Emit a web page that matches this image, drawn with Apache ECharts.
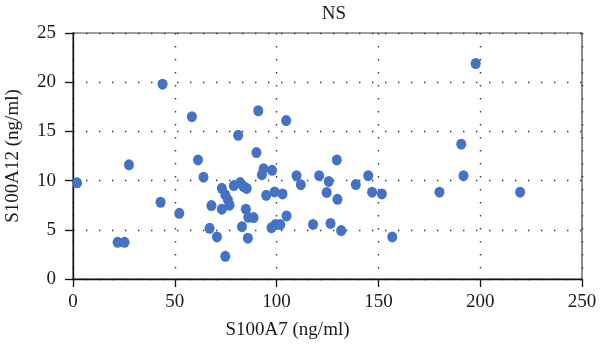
<!DOCTYPE html>
<html>
<head>
<meta charset="utf-8">
<script src="https://cdn.jsdelivr.net/npm/echarts@6/dist/echarts.min.js"></script>
<style>html,body{margin:0;padding:0;background:#fff}#c{width:600px;height:354px}</style>
</head>
<body>
<div id="c"></div>
<script>
const xValues = [2, 21.9, 25.3, 27.5, 43, 44, 52.2, 58.4, 61.4, 64.1, 67.1, 68, 70.7, 73.1, 73.1, 74.8, 74.8, 76.1, 76.9, 79, 81.1, 82.1, 83, 83.8, 85.3, 84.9, 85.9, 86.1, 88.7, 90.1, 91, 92.8, 93.6, 94.9, 97.5, 97.8, 99, 99.5, 101.8, 102.9, 104.7, 104.9, 109.8, 111.9, 117.9, 120.9, 124.6, 125.6, 126.5, 129.6, 129.9, 131.7, 138.9, 145, 146.9, 151.7, 156.8, 180, 190.7, 191.8, 197.8, 219.6];
const yValues = [9.77, 3.73, 3.73, 11.6, 7.8, 19.8, 6.68, 16.5, 12.1, 10.35, 5.15, 7.46, 4.27, 9.22, 7.09, 2.3, 8.55, 8.05, 7.5, 9.5, 14.6, 9.8, 5.32, 9.4, 9.2, 7.1, 4.15, 6.27, 6.24, 12.85, 17.1, 10.6, 11.2, 8.5, 5.22, 11.05, 8.85, 5.55, 5.53, 8.65, 16.1, 6.41, 10.5, 9.58, 5.55, 10.5, 8.8, 9.92, 5.65, 12.1, 8.1, 4.92, 9.6, 10.5, 8.82, 8.65, 4.27, 8.82, 13.7, 10.5, 21.9, 8.82];
const xTicks = [0, 50, 100, 150, 200, 250];
const yTicks = [0, 5, 10, 15, 20, 25];
const titleText = 'NS';
const xName = 'S100A7 (ng/ml)';
const yName = 'S100A12 (ng/ml)';

const points = xValues.map((x, i) => [x, yValues[i]]);
const font = 'Liberation Serif';
const txt = {fontFamily: font, fontSize: 19, color: '#1a1a1a'};
const gridLine = {show: true, lineStyle: {color: '#333', width: 1.4, type: [1.4, 11.6]}};

const chart = echarts.init(document.getElementById('c'));
chart.setOption({
  animation: false,
  title: {text: titleText, left: 329, top: 0, textAlign: 'center', textStyle: Object.assign({fontWeight: 'normal'}, txt)},
  grid: {left: 73, right: 18, top: 33, bottom: 75, containLabel: false, outerBoundsMode: 'none', show: true, borderColor: '#444', borderWidth: 1.2},
  xAxis: {
    type: 'value', min: xTicks[0], max: xTicks[xTicks.length - 1], interval: 50,
    name: xName, nameLocation: 'middle', nameGap: 42,
    nameTextStyle: Object.assign({padding: [0, 80, 0, 0]}, txt),
    axisLine: {show: true, lineStyle: {color: '#111', width: 1.3}},
    axisTick: {show: true, length: 8, lineStyle: {color: '#111', width: 1.3}},
    axisLabel: Object.assign({margin: 14}, txt),
    splitLine: gridLine
  },
  yAxis: {
    type: 'value', min: yTicks[0], max: yTicks[yTicks.length - 1], interval: 5,
    name: yName, nameLocation: 'middle', nameGap: 50,
    nameTextStyle: txt,
    axisLine: {show: true, lineStyle: {color: '#111', width: 1.3}},
    axisTick: {show: true, length: 8, lineStyle: {color: '#111', width: 1.3}},
    axisLabel: Object.assign({margin: 17}, txt),
    splitLine: gridLine
  },
  series: [{
    type: 'scatter', data: points, symbolSize: [10, 11],
    itemStyle: {color: '#4472C4', opacity: 1}
  }]
});
</script>
</body>
</html>
